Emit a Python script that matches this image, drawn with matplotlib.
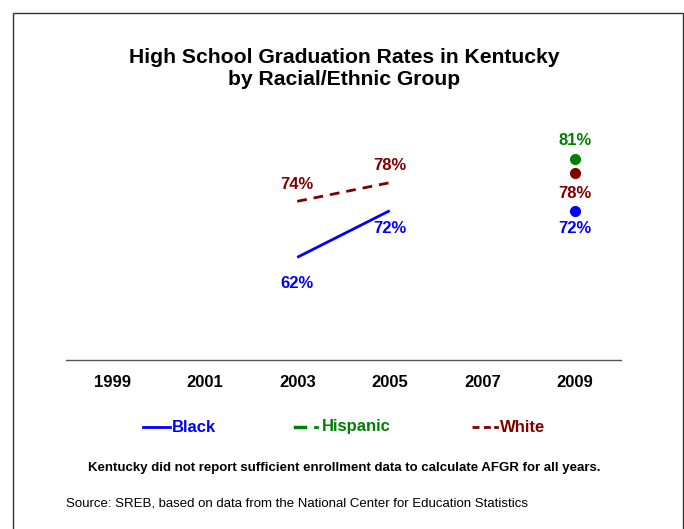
import matplotlib.pyplot as plt
from matplotlib.lines import Line2D
from matplotlib.patches import Rectangle
from matplotlib.transforms import offset_copy

plt.rcParams["font.family"] = ["Liberation Sans", "DejaVu Sans"]

years = [1999, 2001, 2003, 2005, 2007, 2009]
trend_years = [2003, 2005]
black_trend = [62, 72]
white_trend = [74, 78]
point_year = 2009
black_2009 = 72
hispanic_2009 = 81
white_2009 = 78

BLUE = "#0000ff"
GREEN = "#008000"
DARKRED = "#800000"

fig = plt.figure(figsize=(6.84, 5.29), dpi=100)
ax = fig.add_axes([0.0965, 0.3195, 0.8114, 0.5293])

ax.plot(trend_years, black_trend, color=BLUE, lw=2.0, solid_capstyle="butt")
ax.plot(trend_years, white_trend, color=DARKRED, lw=2.0, ls=(0, (3.5, 2.5)))

# 2009 dots are staggered a little so labels don't collide
dots = [(black_2009, BLUE, 0), (white_2009, DARKRED, 7), (hispanic_2009, GREEN, 7)]
for val, col, dy in dots:
    tr = offset_copy(ax.transData, fig=fig, x=0, y=dy, units="points")
    ax.plot([point_year], [val], "o", color=col, ms=7, transform=tr)

lab = dict(ha="center", fontsize=12, fontweight="bold")
ax.annotate(f"{black_trend[0]}%", (trend_years[0], black_trend[0]), xytext=(0, -19),
            textcoords="offset points", va="center", color=BLUE, **lab)
ax.annotate(f"{black_trend[1]}%", (trend_years[1], black_trend[1]), xytext=(0, -13),
            textcoords="offset points", va="center", color=BLUE, **lab)
ax.annotate(f"{white_trend[0]}%", (trend_years[0], white_trend[0]), xytext=(0, 12),
            textcoords="offset points", va="center", color=DARKRED, **lab)
ax.annotate(f"{white_trend[1]}%", (trend_years[1], white_trend[1]), xytext=(0, 12),
            textcoords="offset points", va="center", color=DARKRED, **lab)
ax.annotate(f"{hispanic_2009}%", (point_year, hispanic_2009), xytext=(0, 20),
            textcoords="offset points", va="center", color=GREEN, **lab)
ax.annotate(f"{white_2009}%", (point_year, white_2009), xytext=(0, -8),
            textcoords="offset points", va="center", color=DARKRED, **lab)
ax.annotate(f"{black_2009}%", (point_year, black_2009), xytext=(0, -13),
            textcoords="offset points", va="center", color=BLUE, **lab)

ax.set_xlim(1998, 2010)
ax.set_ylim(40, 100)
ax.set_xticks(years)
ax.set_xticklabels([str(y) for y in years], fontsize=12, fontweight="bold")
ax.tick_params(axis="x", length=0, pad=11)
ax.set_yticks([])
for s in ["top", "left", "right"]:
    ax.spines[s].set_visible(False)
ax.spines["bottom"].set_color("#555555")
ax.spines["bottom"].set_linewidth(1.0)
ax.patch.set_visible(False)

fig.text(0.503, 1 - 68.5 / 529, "High School Graduation Rates in Kentucky\nby Racial/Ethnic Group",
         ha="center", va="center", fontsize=15.2, fontweight="bold", linespacing=1.2)

# legend
ly = 1 - 427 / 529
fig.add_artist(Line2D([143 / 684, 170 / 684], [ly, ly], color=BLUE, lw=2))
fig.text(172 / 684, ly, "Black", color=BLUE, fontsize=12, fontweight="bold", va="center")
fig.add_artist(Line2D([295 / 684, 305 / 684], [ly, ly], color=GREEN, lw=2.5))
fig.add_artist(Line2D([315 / 684, 317 / 684], [ly, ly], color=GREEN, lw=2))
fig.text(322 / 684, ly, "Hispanic", color=GREEN, fontsize=12, fontweight="bold", va="center")
fig.add_artist(Line2D([472 / 684, 492 / 684], [ly, ly], color=DARKRED, lw=2, ls=(0, (2.5, 1.6))))
fig.add_artist(Line2D([495 / 684, 497 / 684], [ly, ly], color=DARKRED, lw=2))
fig.text(500 / 684, ly, "White", color=DARKRED, fontsize=12, fontweight="bold", va="center")

fig.text(0.503, 1 - 468 / 529,
         "Kentucky did not report sufficient enrollment data to calculate AFGR for all years.",
         ha="center", va="center", fontsize=9.5, fontweight="bold")
fig.text(66 / 684, 1 - 503 / 529,
         "Source: SREB, based on data from the National Center for Education Statistics",
         ha="left", va="center", fontsize=9.5)

fig.add_artist(Rectangle((13 / 684, -0.05), 670 / 684, 1.05 - 13 / 529, fill=False,
                         edgecolor="#333333", lw=1.0, transform=fig.transFigure))

fig.savefig("out.png", dpi=100)
